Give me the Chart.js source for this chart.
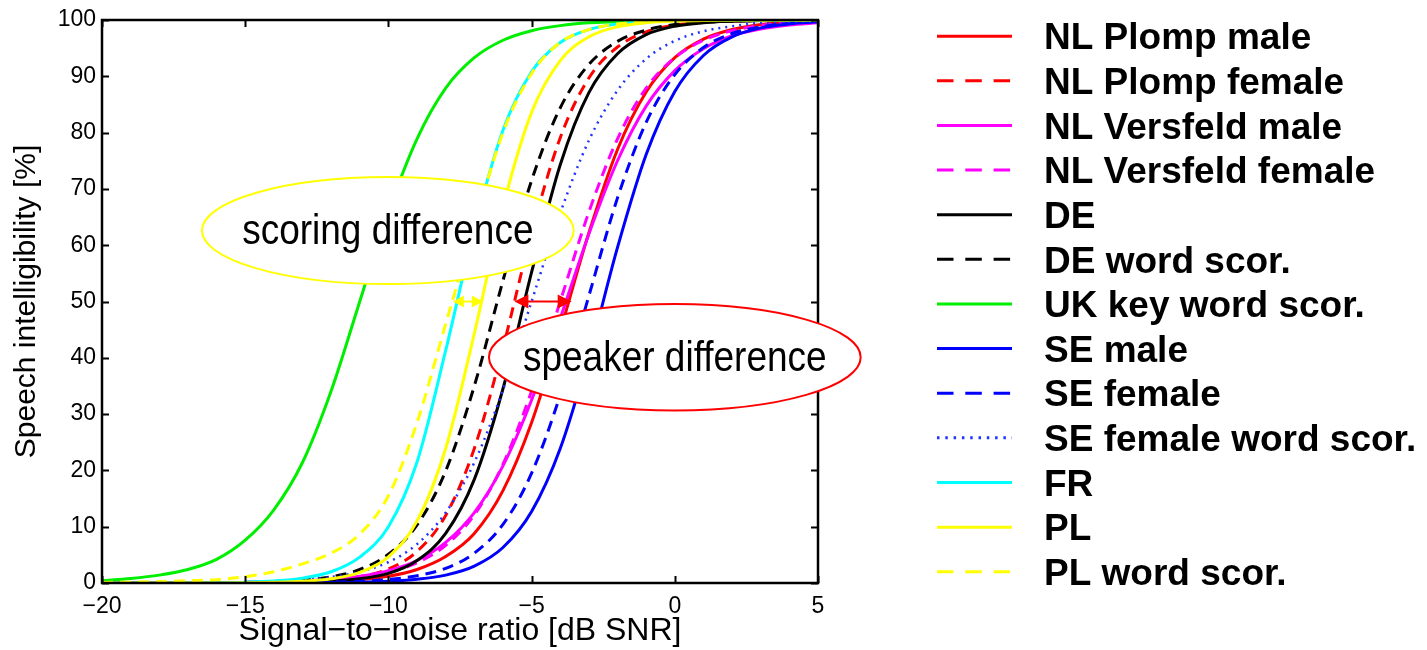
<!DOCTYPE html>
<html>
<head>
<meta charset="utf-8">
<style>
html,body{margin:0;padding:0;background:#ffffff;overflow:hidden}
#wrap{width:1427px;height:650px;position:relative}
canvas{display:block}
</style>
<script src="https://cdn.jsdelivr.net/npm/chart.js@4.4.1/dist/chart.umd.min.js"></script>
</head>
<body>
<div id="wrap"><canvas id="c" width="1427" height="650"></canvas></div>
<script>
// ---- data (1 dB grid) ----
const snr = [-20, -19, -18, -17, -16, -15, -14, -13, -12, -11, -10, -9, -8, -7, -6, -5, -4, -3, -2, -1, 0, 1, 2, 3, 4, 5];

const nlPlompMale      = [0, 0, 0, 0.01, 0.02, 0.04, 0.07, 0.14, 0.3, 0.6, 1.2, 2.4, 4.7, 8.8, 16.4, 28.5, 44.8, 62.2, 77.0, 87.2, 93.3, 96.6, 98.3, 99.2, 99.6, 99.8];
const nlPlompFemale    = [0, 0, 0, 0.01, 0.02, 0.04, 0.09, 0.21, 0.49, 1.1, 2.5, 5.6, 12.0, 23.9, 41.8, 62.2, 79.1, 89.7, 95.2, 97.9, 99.1, 99.6, 99.8, 99.9, 100, 100];
const nlVersfeldMale   = [0.01, 0.01, 0.02, 0.03, 0.06, 0.11, 0.2, 0.37, 0.67, 1.2, 2.2, 4.0, 7.2, 12.5, 20.8, 32.5, 47.0, 62.0, 75.0, 84.7, 91.0, 94.9, 97.2, 98.4, 99.1, 99.5];
const nlVersfeldFemale = [0, 0, 0.01, 0.02, 0.04, 0.07, 0.14, 0.26, 0.51, 0.98, 1.9, 3.6, 6.7, 12.1, 21.1, 34.1, 50.0, 65.9, 78.9, 87.9, 93.3, 96.4, 98.1, 99.0, 99.5, 99.7];
const de               = [0, 0, 0, 0, 0.01, 0.03, 0.06, 0.14, 0.32, 0.75, 1.7, 4.0, 8.8, 18.4, 34.5, 55.2, 74.3, 87.1, 94.0, 97.4, 98.9, 99.5, 99.8, 99.9, 100, 100];
const deWord           = [0, 0, 0.01, 0.02, 0.05, 0.11, 0.24, 0.53, 1.1, 2.4, 5.1, 10.3, 19.9, 35.0, 53.7, 71.5, 84.4, 92.1, 96.2, 98.2, 99.2, 99.6, 99.8, 99.9, 100, 100];
const ukKeyWord        = [0.4, 0.8, 1.4, 2.4, 4.2, 7.6, 13.0, 21.4, 34.1, 50.0, 65.9, 78.9, 87.9, 93.3, 96.4, 98.1, 99.0, 99.5, 99.7, 99.9, 99.9, 100, 100, 100, 100, 100];
const seMale           = [0, 0, 0, 0, 0, 0, 0.01, 0.03, 0.07, 0.14, 0.31, 0.66, 1.4, 3.0, 6.3, 12.7, 23.9, 40.4, 59.6, 76.1, 87.3, 93.7, 97.0, 98.6, 99.3, 99.7];
const seFemale         = [0, 0, 0, 0, 0.01, 0.02, 0.03, 0.07, 0.15, 0.3, 0.62, 1.3, 2.6, 5.3, 10.4, 19.5, 33.4, 51.0, 68.4, 81.8, 90.3, 95.1, 97.6, 98.8, 99.4, 99.7];
const seFemaleWord     = [0.01, 0.01, 0.02, 0.04, 0.08, 0.15, 0.29, 0.55, 1.05, 2.0, 3.7, 6.9, 12.5, 21.4, 34.3, 50.0, 65.7, 78.6, 87.5, 93.1, 96.3, 98.0, 98.9, 99.5, 99.7, 99.8];
const fr               = [0, 0, 0.01, 0.03, 0.06, 0.15, 0.36, 0.86, 2.0, 4.6, 10.0, 21.5, 41.3, 62.9, 80.4, 90.8, 96.0, 98.3, 99.3, 99.7, 99.9, 100, 100, 100, 100, 100];
const pl               = [0, 0, 0, 0.01, 0.02, 0.05, 0.12, 0.3, 0.75, 1.9, 4.65, 11.0, 23.9, 44.3, 66.8, 83.6, 92.8, 97.0, 98.8, 99.5, 99.8, 99.9, 100, 100, 100, 100];
const plWord           = [0.1, 0.15, 0.25, 0.4, 0.6, 1.1, 2.0, 3.4, 5.3, 8.7, 15.5, 28.5, 46.0, 63.5, 80.0, 90.5, 96.0, 98.3, 99.3, 99.7, 99.9, 100, 100, 100, 100, 100];

const seriesLabels = ['NL Plomp male', 'NL Plomp female', 'NL Versfeld male', 'NL Versfeld female', 'DE', 'DE word scor.',
  'UK key word scor.', 'SE male', 'SE female', 'SE female word scor.', 'FR', 'PL', 'PL word scor.'];
const seriesValues = [nlPlompMale, nlPlompFemale, nlVersfeldMale, nlVersfeldFemale, de, deWord,
  ukKeyWord, seMale, seFemale, seFemaleWord, fr, pl, plWord];

const xTicks = [-20, -15, -10, -5, 0, 5];
const yTicks = [0, 10, 20, 30, 40, 50, 60, 70, 80, 90, 100];

// arrow end points (dB SNR) at the 50 % level
const scoringArrow = [-7.75, -6.7];
const speakerArrow = [-5.6, -3.6];
const arrowLevel = 50;

// ---- styles ----
const FONT = '"Liberation Sans", Arial, Helvetica, sans-serif';
const styles = [
  {c: '#ff0000', d: 'solid'}, {c: '#ff0000', d: 'dash'},
  {c: '#ff00ff', d: 'solid'}, {c: '#ff00ff', d: 'dash'},
  {c: '#000000', d: 'solid'}, {c: '#000000', d: 'dash'},
  {c: '#00ee00', d: 'solid'},
  {c: '#0000ff', d: 'solid'}, {c: '#0000ff', d: 'dash'}, {c: '#2233ff', d: 'dot'},
  {c: '#00ffff', d: 'solid'}, {c: '#ffff00', d: 'solid'}, {c: '#ffff00', d: 'dash'}
];
const plotDash = {solid: [], dash: [11, 7], dot: [2, 5]};
const legendDash = {solid: [], dash: [16.5, 11.8], dot: [2.5, 5.8]};

const datasets = seriesLabels.map((label, i) => ({
  label,
  data: snr.map((s, k) => ({x: s, y: seriesValues[i][k]})),
  borderColor: styles[i].c,
  backgroundColor: styles[i].c,
  borderDash: plotDash[styles[i].d],
  legendDash: legendDash[styles[i].d],
  borderWidth: styles[i].d === 'dot' ? 2.5 : 3,
  pointRadius: 0,
  pointHoverRadius: 0,
  fill: false,
  cubicInterpolationMode: 'monotone',
  order: -i
}));

const annotations = [
  {text: 'scoring difference', x: -10.02, y: 62.6, hx: 6.49, hy: 9.5, color: '#ffff00'},
  {text: 'speaker difference', x: 0.0, y: 40.1, hx: 6.49, hy: 9.45, color: '#ff0000'}
];
const arrows = [
  {from: scoringArrow[0], to: scoringArrow[1], color: '#ffff00', head: 11, half: 6},
  {from: speakerArrow[0], to: speakerArrow[1], color: '#ff0000', head: 14, half: 7}
];

const overlay = {
  id: 'overlay',
  afterDatasetsDraw(chart) {
    const {ctx, chartArea: a, scales: {x, y}} = chart;
    ctx.save();
    ctx.setLineDash([]);
    // axes box
    ctx.strokeStyle = '#000';
    ctx.lineWidth = 2.5;
    ctx.strokeRect(a.left, a.top, a.right - a.left, a.bottom - a.top);
    // inward ticks on all four sides
    ctx.lineWidth = 2;
    ctx.beginPath();
    xTicks.forEach(v => {
      const px = Math.round(x.getPixelForValue(v)) + 0.5;
      ctx.moveTo(px, a.bottom); ctx.lineTo(px, a.bottom - 7);
      ctx.moveTo(px, a.top); ctx.lineTo(px, a.top + 7);
    });
    yTicks.forEach(v => {
      const py = Math.round(y.getPixelForValue(v)) + 0.5;
      ctx.moveTo(a.left, py); ctx.lineTo(a.left + 7, py);
      ctx.moveTo(a.right, py); ctx.lineTo(a.right - 7, py);
    });
    ctx.stroke();
    // ellipses with labels
    annotations.forEach(an => {
      const cx = x.getPixelForValue(an.x), cy = y.getPixelForValue(an.y);
      const rx = Math.abs(x.getPixelForValue(an.x + an.hx) - cx);
      const ry = Math.abs(y.getPixelForValue(an.y + an.hy) - cy);
      ctx.beginPath();
      ctx.ellipse(cx, cy, rx, ry, 0, 0, Math.PI * 2);
      ctx.fillStyle = '#ffffff';
      ctx.fill();
      ctx.strokeStyle = an.color;
      ctx.lineWidth = 2;
      ctx.stroke();
      ctx.save();
      ctx.translate(cx, cy + 2);
      ctx.scale(1, 1.15);
      ctx.fillStyle = '#000';
      ctx.font = '37px ' + FONT;
      ctx.textAlign = 'center';
      ctx.textBaseline = 'middle';
      ctx.fillText(an.text, 0, 0);
      ctx.restore();
    });
    // double arrows
    arrows.forEach(ar => {
      const x1 = x.getPixelForValue(ar.from), x2 = x.getPixelForValue(ar.to);
      const py = y.getPixelForValue(arrowLevel);
      ctx.strokeStyle = ar.color; ctx.fillStyle = ar.color; ctx.lineWidth = 2;
      ctx.beginPath(); ctx.moveTo(x1 + ar.head * 0.5, py); ctx.lineTo(x2 - ar.head * 0.5, py); ctx.stroke();
      ctx.beginPath();
      ctx.moveTo(x1, py); ctx.lineTo(x1 + ar.head, py - ar.half); ctx.lineTo(x1 + ar.head, py + ar.half); ctx.closePath();
      ctx.moveTo(x2, py); ctx.lineTo(x2 - ar.head, py - ar.half); ctx.lineTo(x2 - ar.head, py + ar.half); ctx.closePath();
      ctx.fill();
    });
    ctx.restore();
  },
  afterDraw(chart) {
    const ctx = chart.ctx;
    ctx.save();
    const lx0 = 937, lx1 = 1012, tx = 1044, top = 36.2, step = 44.63;
    chart.data.datasets.forEach((ds, i) => {
      const ly = top + i * step;
      ctx.beginPath();
      ctx.setLineDash(ds.legendDash);
      ctx.strokeStyle = ds.borderColor;
      ctx.lineWidth = 3;
      ctx.lineCap = 'butt';
      ctx.moveTo(lx0, ly); ctx.lineTo(lx1, ly);
      ctx.stroke();
      ctx.setLineDash([]);
      ctx.fillStyle = '#000';
      ctx.font = 'bold 37px ' + FONT;
      ctx.textAlign = 'left';
      ctx.textBaseline = 'alphabetic';
      ctx.fillText(ds.label, tx, ly + 13.2);
    });
    ctx.restore();
  }
};

const fmt = v => (v < 0 ? '\u2212' + Math.abs(v) : String(v));

new Chart(document.getElementById('c'), {
  type: 'line',
  data: {datasets},
  options: {
    responsive: false,
    animation: false,
    devicePixelRatio: 1,
    layout: {padding: {top: 20, right: 609, left: 0, bottom: 0}},
    plugins: {legend: {display: false}, tooltip: {enabled: false}},
    scales: {
      x: {
        type: 'linear', min: -20, max: 5,
        afterBuildTicks: s => { s.ticks = xTicks.map(v => ({value: v})); },
        afterFit: s => { s.height = 67; },
        grid: {display: false, drawTicks: false},
        border: {display: false},
        ticks: {color: '#000', font: {family: FONT, size: 23}, padding: 10, maxRotation: 0, autoSkip: false, callback: v => fmt(v)},
        title: {display: true, text: 'Signal\u2212to\u2212noise ratio [dB SNR]', color: '#000', font: {family: FONT, size: 32}, padding: {top: 0, bottom: 0}}
      },
      y: {
        type: 'linear', min: 0, max: 100,
        afterBuildTicks: s => { s.ticks = yTicks.map(v => ({value: v})); },
        afterFit: s => { s.width = 102; },
        grid: {display: false, drawTicks: false},
        border: {display: false},
        ticks: {color: '#000', font: {family: FONT, size: 23}, padding: 6, autoSkip: false, callback: v => fmt(v)},
        title: {display: true, text: 'Speech intelligibility [%]', color: '#000', font: {family: FONT, size: 30}, padding: {top: 9, bottom: 0}}
      }
    }
  },
  plugins: [overlay]
});
</script>
</body>
</html>
